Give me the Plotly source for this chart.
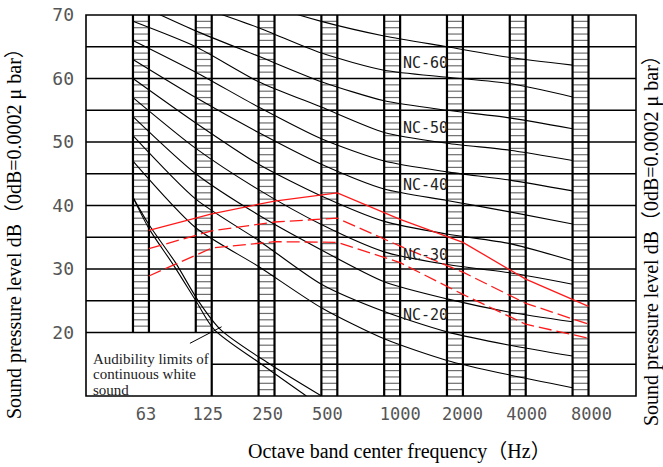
import plotly.graph_objects as go
import numpy as np

# ---------------- data (levels read at the left edge of each octave column) ----------------
bands = ["63", "125", "250", "500", "1000", "2000", "4000", "8000"]

nc15 = [47, 36.5, 30.4, 23.9, 19.0, 15.6, 13.3, 11.3]
nc20 = [51, 41, 34.5, 27.6, 23.3, 20.1, 18, 16.3]
nc25 = [54, 45, 38.5, 33, 28.0, 25.3, 23.2, 21.7]
nc30 = [57, 49, 42.5, 37, 32.7, 30.7, 29.4, 27.6]
nc35 = [60, 53, 46.5, 41.5, 37.5, 35.5, 34, 31.3]
nc40 = [63, 57, 51.5, 46.5, 42.6, 40.8, 39, 37.1]
nc45 = [66, 61, 55.5, 50.5, 47.0, 45.3, 44, 42.3]
nc50 = [69, 65, 59.5, 55.5, 51.5, 49.8, 48.7, 47.1]
nc55 = [72, 67.5, 63.5, 59.5, 56.5, 55.0, 53.8, 52.1]
nc60 = [75, 71.5, 68, 64, 61.3, 60.2, 59.2, 57.1]
nc65 = [78, 75.5, 72, 69, 66.7, 65, 63.3, 62.1]

# measured spectra (read at the right edge of each column)
measured_solid = [36.1, 38.7, 40.7, 42.0, 37.8, 34.2, 28.4, 24.1]
measured_dash_hi = [33.2, 36.0, 37.4, 38.0, 33.6, 29.5, 24.6, 21.3]
measured_dash_lo = [28.9, 33.3, 34.3, 34.2, 31.0, 26.0, 21.3, 19.1]

# audibility limit curves: frequency (Hz) vs level (dB)
aud_lo_freq = [57.4, 68.2, 90.0, 114.6, 140.0, 236.5, 388.0]
aud_lo_db = [41.2, 36.4, 30.5, 25.0, 20.5, 15.0, 10.0]
aud_hi_freq = [57.4, 68.2, 91.5, 117.6, 150.0, 259.7, 458.6]
aud_hi_db = [41.2, 37.0, 31.0, 25.0, 20.5, 15.0, 10.0]

nc_labels = ["NC-60", "NC-50", "NC-40", "NC-30", "NC-20"]
nc_label_db = [62.4, 52.2, 43.3, 32.2, 22.8]

note_lines = ["Audibility limits of", "continuous white", "sound"]
note_db = [15.8, 13.4, 11.0]

# ---------------- geometry / style ----------------
HW = 0.127                      # half width of hatched octave column
XR = [-0.875, 7.883]
YR = [10, 70]
idx = np.arange(len(bands))
left = idx - HW
right = idx + HW
tick_shift = np.array([5, 4, 1, -2, 8, 7.5, 9, 11]) / 62.86


def to_idx(f):
    return np.log2(np.array(f) / 62.5)


def segs(pairs):
    xs, ys = [], []
    for (x0, y0, x1, y1) in pairs:
        xs += [x0, x1, None]
        ys += [y0, y1, None]
    return xs, ys


fig = go.Figure()

# hatching inside columns
hatch = []
for i in idx:
    bottom = 20 if i < 2 else 10
    for d in range(bottom + 1, 70):
        hatch.append((left[i], d, right[i], d))
hx, hy = segs(hatch)
fig.add_trace(go.Scatter(x=hx, y=hy, mode="lines", line=dict(color="#6e6e6e", width=1.2),
                         hoverinfo="skip", showlegend=False))

# horizontal grid
grid = []
for d in range(20, 70, 5):
    grid.append((XR[0], d, XR[1], d))
grid.append((right[1], 15, XR[1], 15))
gx, gy = segs(grid)
fig.add_trace(go.Scatter(x=gx, y=gy, mode="lines", line=dict(color="black", width=1.4),
                         hoverinfo="skip", showlegend=False))

# column edges
edges = []
for i in idx:
    bottom = 20 if i < 2 else 10
    edges.append((left[i], bottom, left[i], 70))
    rb = 10 if i >= 1 else 20
    edges.append((right[i], rb, right[i], 70))
ex, ey = segs(edges)
fig.add_trace(go.Scatter(x=ex, y=ey, mode="lines", line=dict(color="black", width=2.2),
                         hoverinfo="skip", showlegend=False))

# NC curves
for vals in [nc15, nc20, nc25, nc30, nc35, nc40, nc45, nc50, nc55, nc60, nc65]:
    fig.add_trace(go.Scatter(x=left, y=vals, mode="lines",
                             line=dict(color="black", width=1.1, shape="spline", smoothing=0.7),
                             hoverinfo="skip", showlegend=False))

# audibility limit curves
for fx, dv in [(aud_lo_freq, aud_lo_db), (aud_hi_freq, aud_hi_db)]:
    fig.add_trace(go.Scatter(x=to_idx(fx), y=dv, mode="lines",
                             line=dict(color="black", width=1.1, shape="spline", smoothing=0.8),
                             hoverinfo="skip", showlegend=False))

# measured spectra (red)
fig.add_trace(go.Scatter(x=right, y=measured_solid, mode="lines",
                         line=dict(color="#ff1a1a", width=1.3),
                         hoverinfo="skip", showlegend=False))
for vals in [measured_dash_hi, measured_dash_lo]:
    fig.add_trace(go.Scatter(x=right, y=vals, mode="lines",
                             line=dict(color="#ff1a1a", width=1.3, dash="13px,5px"),
                             hoverinfo="skip", showlegend=False))

# NC labels
for lab, yv in zip(nc_labels, nc_label_db):
    fig.add_annotation(x=right[4], y=yv, text=lab, showarrow=False, xanchor="left",
                       yanchor="middle", xshift=1,
                       font=dict(family="DejaVu Sans Mono", size=15, color="#222"))

# audibility note + pointer
for txt, yv in zip(note_lines, note_db):
    fig.add_annotation(x=XR[0], y=yv, xshift=5, text=txt, showarrow=False,
                       xanchor="left", yanchor="middle",
                       font=dict(family="Liberation Serif", size=15, color="#222"))
fig.add_shape(type="line", x0=0.78, y0=18.3, x1=1.284, y1=20.9,
              line=dict(color="black", width=1))

# border
fig.add_shape(type="rect", xref="paper", yref="paper", x0=0, y0=0, x1=1, y1=1,
              line=dict(color="black", width=1.6))

title_font = dict(family="Liberation Serif, Noto Sans CJK SC", size=20, color="black")
ytitle = "Sound pressure level dB（0dB=0.0002 μ bar）"
fig.add_annotation(xref="paper", yref="paper", x=-72 / 550, y=(396 - 229) / 381, text=ytitle,
                   textangle=-90, showarrow=False, xanchor="center", yanchor="middle",
                   font=title_font)
fig.add_annotation(xref="paper", yref="paper", x=1.0 + 15 / 550, y=(396 - 236) / 381, text=ytitle,
                   textangle=-90, showarrow=False, xanchor="center", yanchor="middle",
                   font=title_font)
fig.add_annotation(xref="paper", yref="paper", x=(399 - 86) / 550, y=-(452 - 396) / 381,
                   text="Octave band center frequency（Hz）",
                   showarrow=False, xanchor="center", yanchor="middle", font=title_font)

fig.update_layout(
    width=663, height=467,
    margin=dict(l=86, r=27, t=15, b=71, autoexpand=False),
    paper_bgcolor="white", plot_bgcolor="white",
    xaxis=dict(range=XR, showgrid=False, zeroline=False, showline=False,
               tickvals=idx + tick_shift, ticktext=bands, ticks="", automargin=False,
               ticklabelstandoff=6,
               tickfont=dict(family="DejaVu Sans Mono", size=17, color="#555")),
    yaxis=dict(range=YR, showgrid=False, zeroline=False, showline=False,
               tickvals=[20, 30, 40, 50, 60, 70], ticks="", automargin=False,
               ticklabelstandoff=11,
               tickfont=dict(family="DejaVu Sans Mono", size=18, color="#555")),
)

fig.write_html("out.html", config={"displayModeBar": False},
               post_script="document.body.style.margin='0';document.body.style.padding='0';")
